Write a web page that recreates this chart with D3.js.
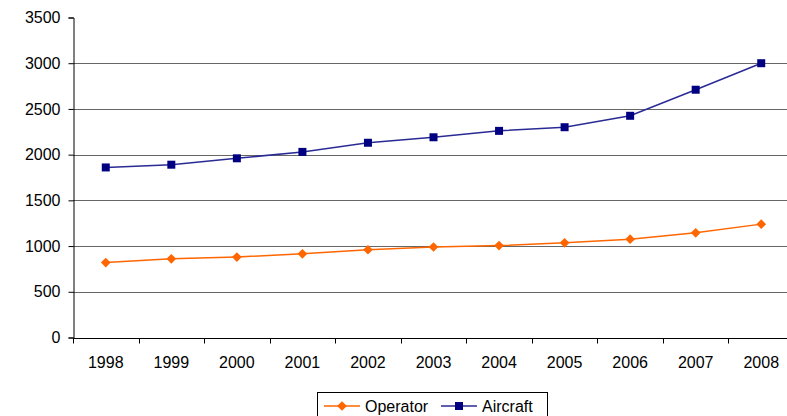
<!DOCTYPE html>
<html lang="en">
<head>
<meta charset="UTF-8">
<script src="https://d3js.org/d3.v7.min.js"></script>
<style>
    body { margin: 0; background: #fff; overflow: hidden; }
    svg { display: block; font-family: 'Liberation Sans', Arial, sans-serif; }
</style>
</head>
<body>
<svg id="chart" width="787" height="416"></svg>
<script>
    // data
    const years = ["1998", "1999", "2000", "2001", "2002", "2003", "2004", "2005", "2006", "2007", "2008"];
    const operator = [820, 860, 880, 915, 960, 990, 1005, 1035, 1075, 1145, 1240];
    const aircraft = [1860, 1890, 1960, 2030, 2130, 2190, 2260, 2300, 2425, 2710, 3000];
    const yTicks = [0, 500, 1000, 1500, 2000, 2500, 3000, 3500];

    const svg = d3.select("#chart");
    const font = "'Liberation Sans', Arial, sans-serif";

    const x = d3.scaleBand().domain(years).range([73, 794]);
    const y = d3.scaleLinear().domain([0, 3500]).range([337.5, 17.5]);

    // gridlines
    svg.append("g")
        .selectAll("line")
        .data(yTicks.filter(d => d > 0 && d < 3500))
        .enter().append("line")
        .attr("x1", 73).attr("x2", 787)
        .attr("y1", d => Math.round(y(d)) + 0.5).attr("y2", d => Math.round(y(d)) + 0.5)
        .attr("stroke", "#666").attr("stroke-width", 1);

    // y axis
    const yAxis = svg.append("g")
        .attr("transform", "translate(73.5,0)")
        .call(d3.axisLeft(y).tickValues(yTicks).tickFormat(d3.format("d")).tickSize(5).tickPadding(8));
    yAxis.select(".domain").attr("stroke", "#000");
    yAxis.selectAll(".tick line").attr("stroke", "#000");
    yAxis.selectAll("text").attr("font-size", 16).attr("fill", "#000").attr("font-family", font);

    // x axis
    const xAxis = svg.append("g")
        .attr("transform", "translate(0," + (Math.round(y(0)) + 0.5) + ")")
        .call(d3.axisBottom(x).tickSize(0).tickPadding(18));
    xAxis.select(".domain").attr("d", "M73,0H787").attr("stroke", "#000");
    xAxis.selectAll("text").attr("font-size", 16).attr("fill", "#000").attr("font-family", font);
    // tick marks on band edges
    xAxis.append("g").selectAll("line")
        .data(years)
        .enter().append("line")
        .attr("x1", d => Math.round(x(d)) + 0.5).attr("x2", d => Math.round(x(d)) + 0.5)
        .attr("y1", 0).attr("y2", 5)
        .attr("stroke", "#000");

    const cx = d => x(d) + x.bandwidth() / 2;
    const line = d3.line().x((d, i) => cx(years[i])).y(d => y(d));

    // series
    svg.append("path").datum(operator)
        .attr("d", line).attr("fill", "none")
        .attr("stroke", "#ff6600").attr("stroke-width", 1.5);
    svg.append("path").datum(aircraft)
        .attr("d", line).attr("fill", "none")
        .attr("stroke", "#2a2a96").attr("stroke-width", 1.5);

    const diamond = d3.symbol().type(d3.symbolDiamond2).size(60);
    const square = d3.symbol().type(d3.symbolSquare).size(64);

    svg.append("g").selectAll("path")
        .data(operator)
        .enter().append("path")
        .attr("d", diamond)
        .attr("transform", (d, i) => "translate(" + cx(years[i]) + "," + y(d) + ")")
        .attr("fill", "#ff6600");
    svg.append("g").selectAll("path")
        .data(aircraft)
        .enter().append("path")
        .attr("d", square)
        .attr("transform", (d, i) => "translate(" + cx(years[i]) + "," + y(d) + ")")
        .attr("fill", "#000080");

    // legend
    const lg = svg.append("g");
    lg.append("rect")
        .attr("x", 317.5).attr("y", 392.5).attr("width", 230).attr("height", 30)
        .attr("fill", "#fff").attr("stroke", "#000");
    const items = [
        { name: "Operator", color: "#ff6600", sym: diamond, x0: 324 },
        { name: "Aircraft", color: "#2a2a96", mark: "#000080", sym: square, x0: 441 }
    ];
    items.forEach(it => {
        lg.append("line")
            .attr("x1", it.x0).attr("x2", it.x0 + 36)
            .attr("y1", 406).attr("y2", 406)
            .attr("stroke", it.color).attr("stroke-width", 1.5);
        lg.append("path")
            .attr("d", it.sym)
            .attr("transform", "translate(" + (it.x0 + 18) + ",406)")
            .attr("fill", it.mark || it.color);
        lg.append("text")
            .attr("x", it.x0 + 41).attr("y", 411.5)
            .attr("font-size", 16).attr("fill", "#000").attr("font-family", font)
            .text(it.name);
    });
</script>
</body>
</html>
